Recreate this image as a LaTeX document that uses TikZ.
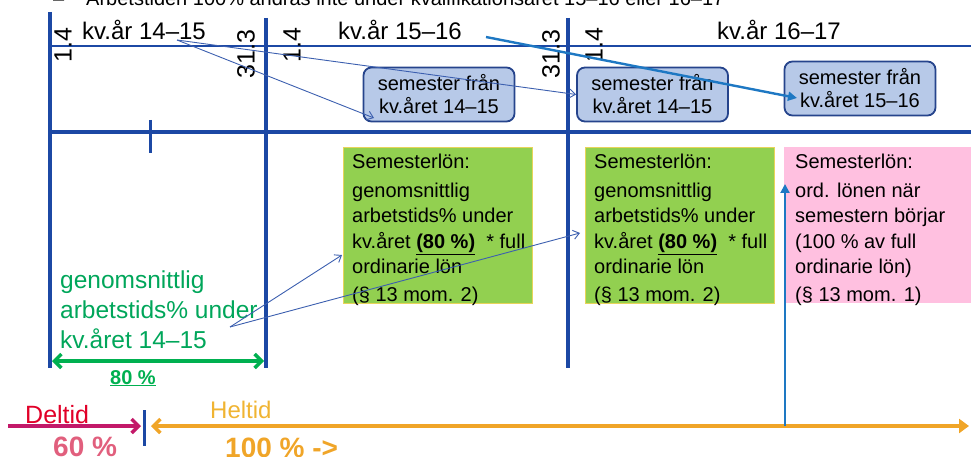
\documentclass[tikz,border=0pt]{standalone}
\usepackage{fontspec}
\setmainfont{Liberation Sans}
\usetikzlibrary{arrows.meta}
\definecolor{lineblue}{RGB}{28,72,164}
\definecolor{boxfill}{RGB}{183,201,232}
\definecolor{boxline}{RGB}{38,68,140}
\definecolor{thinblue}{RGB}{60,95,175}
\definecolor{midblue}{RGB}{30,120,195}
\definecolor{gfill}{RGB}{146,208,80}
\definecolor{gline}{RGB}{232,212,90}
\definecolor{pfill}{RGB}{255,192,224}
\definecolor{txtgreen}{RGB}{0,166,90}
\definecolor{arrgreen}{RGB}{0,176,80}
\definecolor{delred}{RGB}{225,0,40}
\definecolor{delline}{RGB}{195,25,105}
\definecolor{pinktxt}{RGB}{225,95,125}
\definecolor{orange1}{RGB}{240,165,40}
\definecolor{orangetxt}{RGB}{240,180,50}
\begin{document}
\begin{tikzpicture}[x=1pt,y=-1pt,
  vline/.style={draw=lineblue,line width=3.5pt},
  semBox/.style={draw=boxline,fill=boxfill,line width=1.8pt,rounded corners=8pt,
    align=center,font=\fontsize{20}{23}\selectfont,inner sep=0pt,
    minimum width=151pt,minimum height=54pt},
  gBox/.style={draw=gline,line width=0.8pt,fill=gfill,anchor=north west,
    minimum width=189pt,minimum height=156pt,inner sep=0pt},
  pBox/.style={fill=pfill,anchor=north west,minimum width=200pt,minimum height=156pt,inner sep=0pt},
  boxText/.style={anchor=north west,align=left,inner sep=0pt,font=\fontsize{20}{25.5}\selectfont},
  dateLbl/.style={rotate=90,font=\fontsize{25}{28}\selectfont,inner sep=0pt},
  yearLbl/.style={font=\fontsize{24}{28}\selectfont,inner sep=0pt,anchor=base west},
  thinArr/.style={draw=thinblue,line width=0.9pt,-{Straight Barb[length=6pt,width=9pt]}},
]
\useasboundingbox (0,0) rectangle (971,457);
\clip (0,0) rectangle (971,457);

% partially visible title
\node[anchor=base west,inner sep=0pt,font=\fontsize{20}{22}\selectfont] (bul) at (53,6) {–};
\node[anchor=base west,inner sep=0pt,font=\fontsize{20}{22}\selectfont] (title) at (86,6)
  {Arbetstiden  100\% ändras inte under kvalifikationsåret 15–16 eller 16–17};

% coloured boxes
\node[gBox] (g1) at (343,147) {};
\node[gBox] (g2) at (585,147) {};
\node[pBox] (p1) at (784,147) {};

\node[boxText] (g1t) at (352,154) {Semesterlön:\\[3pt]genomsnittlig\\arbetstids\% under\\kv.året \underline{\textbf{(80 \%)}}\ \ * full\\ordinarie lön\\[2pt](§ 13 mom. 2)};
\node[boxText] (g2t) at (594,154) {Semesterlön:\\[3pt]genomsnittlig\\arbetstids\% under\\kv.året \underline{\textbf{(80 \%)}}\ \ * full\\ordinarie lön\\[2pt](§ 13 mom. 2)};
\node[boxText] (p1t) at (795,154) {Semesterlön:\\[3pt]ord. lönen när\\semestern börjar\\(100 \% av full\\ordinarie lön)\\[2pt](§ 13 mom. 1)};

% timeline lines
\coordinate (tl0) at (50,46);
\coordinate (tl1) at (971,46);
\draw[lineblue,line width=1.2pt] (tl0) -- (tl1);
\coordinate (th0) at (48,132);
\coordinate (th1) at (971,132);
\draw[lineblue,line width=4pt] (th0) -- (th1);
\coordinate (v1t) at (50,12);  \coordinate (v1b) at (50,368);
\coordinate (v2t) at (266,18); \coordinate (v2b) at (266,368);
\coordinate (v3t) at (568,18); \coordinate (v3b) at (568,368);
\draw[vline] (v1t) -- (v1b);
\draw[vline] (v2t) -- (v2b);
\draw[vline] (v3t) -- (v3b);
\coordinate (tk0) at (150,120); \coordinate (tk1) at (150,153);
\draw[lineblue,line width=3pt] (tk0) -- (tk1);

% date labels
\node[dateLbl] (d1) at (63,45) {1.4};
\node[dateLbl] (d2) at (246,54) {31.3};
\node[dateLbl] (d3) at (292,45) {1.4};
\node[dateLbl] (d4) at (551,54) {31.3};
\node[dateLbl] (d5) at (594,45) {1.4};

% year labels
\node[yearLbl] (y1) at (82,40) {kv.år 14–15};
\node[yearLbl] (y2) at (338,40) {kv.år 15–16};
\node[yearLbl] (y3) at (717,40) {kv.år 16–17};

% semester boxes
\node[semBox] (s1) at (439,94.5) {semester från\\kv.året 14–15};
\node[semBox] (s2) at (652.5,94.5) {semester från\\kv.året 14–15};
\node[semBox] (s3) at (860,88.5) {semester från\\kv.året 15–16};

% arrows from year labels
\coordinate (a0) at (177,40);
\coordinate (a1) at (374,118);
\draw[thinArr] (a0) -- (a1);
\draw[thinArr] (a0) -- (s2.west);
\coordinate (b0) at (486,37);
\coordinate (b1) at (797,98);
\draw[midblue,line width=2.4pt,-{Triangle[length=9pt,width=9pt]}] (b0) -- (b1);

% green text
\node[anchor=base west,align=left,inner sep=0pt,text=txtgreen,font=\fontsize{24.5}{30}\selectfont] (gt) at (60,348)
  {genomsnittlig\\arbetstids\% under\\kv.året 14–15};
\coordinate (c0) at (230,327);
\coordinate (c1) at (342,255);
\coordinate (c2) at (580,233);
\draw[thinArr] (c0) -- (c1);
\draw[thinArr] (c0) -- (c2);

% 80 % arrow
\coordinate (e0) at (52,361);
\coordinate (e1) at (264,361);
\draw[arrgreen,line width=3.5pt,{Straight Barb[length=7pt,width=14pt]}-{Straight Barb[length=7pt,width=14pt]}] (e0) -- (e1);
\node[anchor=base west,inner sep=0pt,text=arrgreen,font=\bfseries\fontsize{20}{24}\selectfont] (p80) at (110,384) {\underline{80 \%}};

% bottom: Deltid / Heltid
\coordinate (f0) at (8,426);
\coordinate (f1) at (141,426);
\draw[delline,line width=3.5pt,-{Straight Barb[length=7pt,width=14pt]}] (f0) -- (f1);
\coordinate (tb0) at (144,410); \coordinate (tb1) at (144,446);
\draw[lineblue,line width=3pt] (tb0) -- (tb1);
\coordinate (h0) at (151,426);
\coordinate (h1) at (969,426);
\draw[orange1,line width=3.5pt,{Straight Barb[length=7pt,width=14pt]}-{Triangle[length=10pt,width=14pt]}] (h0) -- (h1);
\node[anchor=base west,inner sep=0pt,text=delred,font=\fontsize{25}{28}\selectfont] (dl) at (25,423) {Deltid};
\node[anchor=base west,inner sep=0pt,text=pinktxt,font=\bfseries\fontsize{28}{30}\selectfont] (d60) at (53,456) {60 \%};
\node[anchor=base west,inner sep=0pt,text=orangetxt,font=\fontsize{24}{26}\selectfont] (hl) at (210,418) {Heltid};
\node[anchor=base west,inner sep=0pt,text=orange1,font=\bfseries\fontsize{28}{30}\selectfont] (h100) at (225,457) {100 \% ->};

% vertical arrow to pink box
\coordinate (u0) at (785,426);
\coordinate (u1) at (785,184);
\draw[midblue,line width=2pt,-{Triangle[length=9pt,width=9pt]}] (u0) -- (u1);
\end{tikzpicture}
\end{document}
